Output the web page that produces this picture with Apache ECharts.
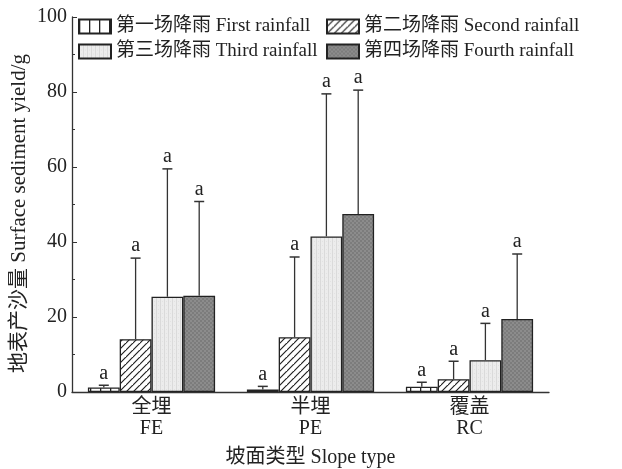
<!DOCTYPE html>
<html><head><meta charset="utf-8">
<script src="https://cdn.jsdelivr.net/npm/echarts@6/dist/echarts.min.js"></script>
<style>html,body{margin:0;padding:0;background:#fff}#c{width:622px;height:469px}</style>
</head><body><div id="c"></div>
<script>
const categories = ['全埋\nFE', '半埋\nPE', '覆盖\nRC'];
const seriesNames = ['第一场降雨 First rainfall', '第二场降雨 Second rainfall', '第三场降雨 Third rainfall', '第四场降雨 Fourth rainfall'];
const firstMean = [1.2, 0.7, 1.4];
const firstErrTop = [1.8, 1.5, 2.6];
const secondMean = [14.1, 14.6, 3.4];
const secondErrTop = [35.7, 36.0, 8.2];
const thirdMean = [25.4, 41.5, 8.5];
const thirdErrTop = [59.5, 79.5, 18.3];
const fourthMean = [25.7, 47.5, 19.5];
const fourthErrTop = [50.8, 80.5, 36.8];
const sigLetters = [['a','a','a'],['a','a','a'],['a','a','a'],['a','a','a']];
const yTicks = [0, 20, 40, 60, 80, 100];

const means = [firstMean, secondMean, thirdMean, fourthMean];
const errTops = [firstErrTop, secondErrTop, thirdErrTop, fourthErrTop];

function pat(w, h, draw) {
  const c = document.createElement('canvas'); c.width = w; c.height = h;
  const g = c.getContext('2d'); draw(g, w, h); return c;
}
const patterns = [
  pat(10, 10, (g, w, h) => { g.fillStyle = '#fff'; g.fillRect(0,0,w,h); g.fillStyle = '#222'; g.fillRect(0,0,1.3,h); }),
  pat(7, 7, (g, w, h) => { g.fillStyle = '#fff'; g.fillRect(0,0,w,h); g.strokeStyle = '#222'; g.lineWidth = 1.2;
    g.beginPath(); g.moveTo(-1, h+1); g.lineTo(w+1, -1); g.moveTo(-1-w, h+1); g.lineTo(1, -1); g.moveTo(w-1, 2*h+1); g.lineTo(2*w+1, h-1); g.stroke(); }),
  pat(4, 4, (g, w, h) => { g.fillStyle = '#ececec'; g.fillRect(0,0,w,h); g.fillStyle = '#dadada'; g.fillRect(0,0,1,h); g.fillStyle='#e2e2e2'; g.fillRect(2,1,1,1); }),
  pat(4, 4, (g, w, h) => { g.fillStyle = '#8c8c8c'; g.fillRect(0,0,w,h); g.fillStyle = '#7c7c7c'; g.fillRect(0,0,2,2); g.fillRect(2,2,2,2); })
];

const barSeries = means.map((m, i) => ({
  name: seriesNames[i], type: 'bar', data: m, barWidth: '20%', barGap: '0%',
  itemStyle: { color: { image: patterns[i], repeat: 'repeat' }, borderColor: '#222', borderWidth: 1.3 },
  z: 2
}));

const errSeries = means.map((m, i) => ({
  type: 'custom', name: 'err' + i, z: 3, silent: true,
  data: m.map((v, k) => [k, v, errTops[i][k], sigLetters[i][k]]),
  renderItem: function (params, api) {
    const k = api.value(0);
    const band = api.size([1, 0])[0];
    const bw = band * 0.2;
    const off = (i - 1.5) * bw;
    const p0 = api.coord([k, api.value(1)]);
    const p1 = api.coord([k, api.value(2)]);
    const x = p0[0] + off;
    const cap = 5;
    return { type: 'group', children: [
      { type: 'line', shape: { x1: x, y1: p0[1], x2: x, y2: p1[1] }, style: { stroke: '#333', lineWidth: 1.3 } },
      { type: 'line', shape: { x1: x - cap, y1: p1[1], x2: x + cap, y2: p1[1] }, style: { stroke: '#333', lineWidth: 1.5 } },
      { type: 'text', x: x, y: p1[1] - 2, style: { text: api.value(3), textAlign: 'center', textVerticalAlign: 'bottom', font: '20px "Liberation Serif", serif', fill: '#222' } }
    ]};
  }
}));

const font = '"Liberation Serif", "Noto Sans CJK SC", serif';
const chart = echarts.init(document.getElementById('c'), null, { renderer: 'canvas' });
chart.setOption({
  animation: false,
  backgroundColor: '#fff',
  grid: { left: 72, right: 73, top: 17, bottom: 77, containLabel: false, outerBoundsMode: 'none' },
  legend: [
    { data: [seriesNames[0], seriesNames[2]], orient: 'vertical', left: 73, top: 12, itemWidth: 32, itemHeight: 14, itemGap: 6,
      textStyle: { fontFamily: font, fontSize: 19, color: '#222' }, icon: 'rect' },
    { data: [seriesNames[1], seriesNames[3]], orient: 'vertical', left: 321, top: 12, itemWidth: 32, itemHeight: 14, itemGap: 6,
      textStyle: { fontFamily: font, fontSize: 19, color: '#222' }, icon: 'rect' }
  ],
  xAxis: {
    type: 'category', data: categories,
    name: '坡面类型 Slope type', nameLocation: 'middle', nameGap: 56,
    nameTextStyle: { fontFamily: font, fontSize: 20, color: '#222' },
    axisLine: { lineStyle: { color: '#333', width: 1.3 } },
    axisTick: { show: false },
    axisLabel: { fontFamily: font, fontSize: 20, color: '#222', lineHeight: 21, margin: 5 }
  },
  yAxis: {
    type: 'value', min: 0, max: 100, interval: 20,
    name: '地表产沙量 Surface sediment yield/g', nameLocation: 'middle', nameGap: 42, nameMoveOverlap: false,
    nameTextStyle: { fontFamily: font, fontSize: 21, color: '#222', padding: [0, 18, 0, 0] },
    axisLine: { show: true, lineStyle: { color: '#333', width: 1.3 } },
    axisTick: { show: true, inside: true, length: 5, lineStyle: { color: '#333' } },
    minorTick: { show: true, splitNumber: 2, length: 3, lineStyle: { color: '#333' } },
    splitLine: { show: false },
    axisLabel: { fontFamily: font, fontSize: 20, color: '#222', margin: 5,
      formatter: v => yTicks.includes(v) ? String(v) : '' }
  },
  series: [...barSeries, ...errSeries]
});
</script></body></html>
